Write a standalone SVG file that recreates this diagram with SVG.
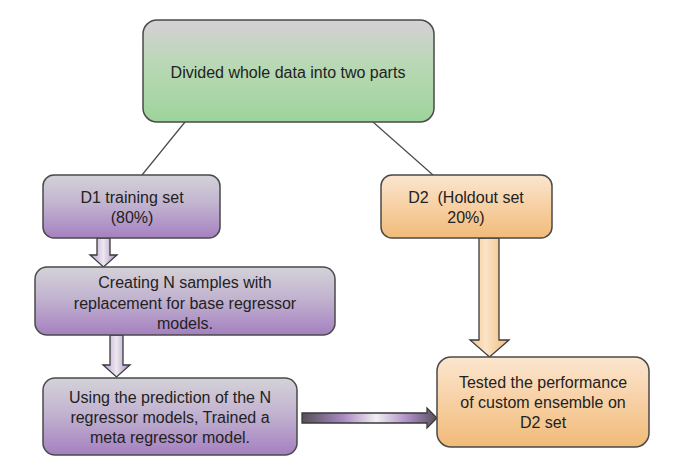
<svg xmlns="http://www.w3.org/2000/svg" width="685" height="468" viewBox="0 0 685 468">
<defs>
<linearGradient id="gGreen" x1="0" y1="0" x2="0" y2="1">
<stop offset="0" stop-color="#d6d0d6"/><stop offset="0.45" stop-color="#b8d8b4"/><stop offset="1" stop-color="#9dd49b"/>
</linearGradient>
<linearGradient id="gPurple" x1="0" y1="0" x2="0" y2="1">
<stop offset="0" stop-color="#d4d2d8"/><stop offset="0.45" stop-color="#c2b4d0"/><stop offset="1" stop-color="#a580c0"/>
</linearGradient>
<linearGradient id="gOrange" x1="0" y1="0" x2="0" y2="1">
<stop offset="0" stop-color="#fbe6cf"/><stop offset="0.5" stop-color="#f7d0a4"/><stop offset="1" stop-color="#f1bb78"/>
</linearGradient>
<linearGradient id="gArrowP" x1="0" y1="0" x2="1" y2="0">
<stop offset="0" stop-color="#b89ccf"/><stop offset="0.5" stop-color="#ece8f0"/><stop offset="1" stop-color="#a888c2"/>
</linearGradient>
<linearGradient id="gArrowO" x1="0" y1="0" x2="1" y2="0">
<stop offset="0" stop-color="#f3c488"/><stop offset="0.4" stop-color="#fbe4c8"/><stop offset="1" stop-color="#f1bb78"/>
</linearGradient>
<linearGradient id="gArrowH" x1="0" y1="0" x2="1" y2="0">
<stop offset="0" stop-color="#555058"/><stop offset="0.3" stop-color="#a888c0"/><stop offset="0.55" stop-color="#f0eef2"/><stop offset="0.8" stop-color="#a888c0"/><stop offset="1" stop-color="#555058"/>
</linearGradient>
</defs>
<style>
.box{stroke:#4a4a4a;stroke-width:1.5}
.t{font-family:"Liberation Sans",Arial,sans-serif;font-size:16px;fill:#222;text-anchor:middle}
.ar{stroke:#3a3a3a;stroke-width:1.3}
.ln{stroke:#4a4a4a;stroke-width:1.2;fill:none}
</style>
<g id="connectors">
<line class="ln" x1="185" y1="122" x2="142" y2="175"/>
<line class="ln" x1="373" y1="122" x2="433" y2="175"/>
<path class="ar" fill="url(#gArrowP)" d="M97,238 H110 V255 H117 L103.5,267 L90,255 H97 Z"/>
<path class="ar" fill="url(#gArrowP)" d="M110,335 H123 V365 H130 L116.5,377 L103,365 H110 Z"/>
<path class="ar" fill="url(#gArrowO)" d="M479,238 H499 V340 H509 L489.5,357 L470,340 H479 Z"/>
<path class="ar" fill="url(#gArrowH)" d="M302,413 H427 V408 L437,418 L427,428 V423 H302 Z"/>
</g>
<g id="n_top">
<rect class="box" x="143" y="20" width="291" height="102" rx="14" fill="url(#gGreen)"/>
<text class="t" x="288" y="78">Divided whole data into two parts</text>
</g>
<g id="n_d1">
<rect class="box" x="43" y="175" width="177" height="63" rx="11" fill="url(#gPurple)"/>
<text class="t" x="132" y="203">D1 training set</text>
<text class="t" x="132" y="223">(80%)</text>
</g>
<g id="n_d2">
<rect class="box" x="381" y="175" width="171" height="63" rx="11" fill="url(#gOrange)"/>
<text class="t" x="466" y="203">D2&#160; (Holdout set</text>
<text class="t" x="466" y="223">20%)</text>
</g>
<g id="n_create">
<rect class="box" x="35" y="267" width="300" height="68" rx="12" fill="url(#gPurple)"/>
<text class="t" x="185" y="288">Creating N samples with</text>
<text class="t" x="185" y="309">replacement for base regressor</text>
<text class="t" x="185" y="329">models.</text>
</g>
<g id="n_using">
<rect class="box" x="43" y="378" width="254" height="77" rx="12" fill="url(#gPurple)"/>
<text class="t" x="170" y="403">Using the prediction of the N</text>
<text class="t" x="170" y="423">regressor models, Trained a</text>
<text class="t" x="170" y="443">meta regressor model.</text>
</g>
<g id="n_test">
<rect class="box" x="437" y="357" width="212" height="90" rx="14" fill="url(#gOrange)"/>
<text class="t" x="543" y="388">Tested the performance</text>
<text class="t" x="543" y="408">of custom ensemble on</text>
<text class="t" x="543" y="428">D2 set</text>
</g>
</svg>
